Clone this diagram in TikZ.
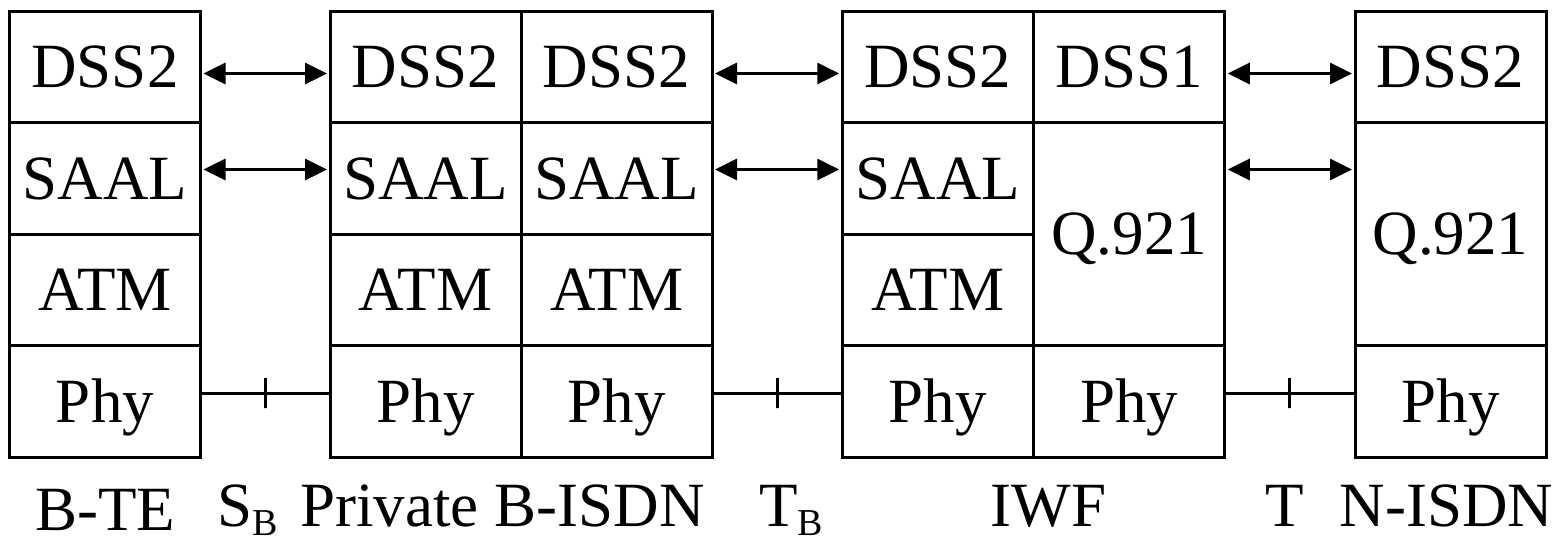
\documentclass[tikz,border=0pt]{standalone}
\usepackage{fontspec}
\setmainfont{Liberation Serif}
\usetikzlibrary{arrows.meta}
\newcommand{\mysub}[1]{\raisebox{-9pt}{\fontsize{38}{38}\selectfont #1}}
\begin{document}
\begin{tikzpicture}[x=1pt,y=-1pt,
  cell/.style={draw, line width=3pt, minimum width=191pt, minimum height=111.5pt,
    inner sep=0pt, text height=41.5pt, text depth=0pt, font=\fontsize{63}{63}\selectfont},
  tall/.style={cell, minimum height=223pt},
  lbl/.style={inner sep=0pt, font=\fontsize{63}{63}\selectfont},
  link/.style={line width=3pt, {Triangle[length=22pt,width=21pt]}-{Triangle[length=22pt,width=21pt]},
    shorten <=1.5pt, shorten >=1.5pt},
  wire/.style={line width=3pt},
  tickmark/.style={draw, line width=3pt, minimum width=0pt, minimum height=30pt, inner sep=0pt, outer sep=0pt}]
\useasboundingbox (0,0) rectangle (1560,544);
% B-TE
\node[cell] (te1) at (105,66.75) {DSS2};
\node[cell] (te2) at (105,178.25) {SAAL};
\node[cell] (te3) at (105,289.75) {ATM};
\node[cell] (te4) at (105,401.25) {Phy};
% Private B-ISDN
\node[cell] (pa1) at (425.5,66.75) {DSS2};
\node[cell] (pa2) at (425.5,178.25) {SAAL};
\node[cell] (pa3) at (425.5,289.75) {ATM};
\node[cell] (pa4) at (425.5,401.25) {Phy};
\node[cell] (pb1) at (616.5,66.75) {DSS2};
\node[cell] (pb2) at (616.5,178.25) {SAAL};
\node[cell] (pb3) at (616.5,289.75) {ATM};
\node[cell] (pb4) at (616.5,401.25) {Phy};
% IWF
\node[cell] (ia1) at (937.75,66.75) {DSS2};
\node[cell] (ia2) at (937.75,178.25) {SAAL};
\node[cell] (ia3) at (937.75,289.75) {ATM};
\node[cell] (ia4) at (937.75,401.25) {Phy};
\node[cell] (ib1) at (1129.25,66.75) {DSS1};
\node[tall] (ib2) at (1129.25,234) {Q.921};
\node[cell] (ib4) at (1129.25,401.25) {Phy};
% N-ISDN
\node[cell] (n1) at (1450.5,66.75) {DSS2};
\node[tall] (n2) at (1450.5,234) {Q.921};
\node[cell] (n4) at (1450.5,401.25) {Phy};
% peer arrows
\draw[link] ([yshift=-6.75pt]te1.east) -- ([yshift=-6.75pt]pa1.west);
\draw[link] ([yshift=8.75pt]te2.east) -- ([yshift=8.75pt]pa2.west);
\draw[link] ([yshift=-6.75pt]pb1.east) -- ([yshift=-6.75pt]ia1.west);
\draw[link] ([yshift=8.75pt]pb2.east) -- ([yshift=8.75pt]ia2.west);
\draw[link] ([yshift=-6.75pt]ib1.east) -- ([yshift=-6.75pt]n1.west);
\draw[link] ([yshift=64.5pt]ib2.east) -- ([yshift=64.5pt]n2.west);
% physical links
\draw[wire] ([yshift=8.25pt]te4.east) -- node[tickmark]{} ([yshift=8.25pt]pa4.west);
\draw[wire] ([yshift=8.25pt]pb4.east) -- node[tickmark]{} ([yshift=8.25pt]ia4.west);
\draw[wire] ([yshift=8.25pt]ib4.east) -- node[tickmark]{} ([yshift=8.25pt]n4.west);
% labels
\node[lbl, anchor=base] (lte) at (105,530) {B-TE};
\node[lbl, anchor=base west] (lsb) at (217,526) {S\mysub{B}};
\node[lbl, anchor=base] (lpriv) at (502.5,526) {Private B-ISDN};
\node[lbl, anchor=base west] (ltb) at (759,526) {T\mysub{B}};
\node[lbl, anchor=base] (liwf) at (1048.5,526) {IWF};
\node[lbl, anchor=base] (lt) at (1285,526) {T};
\node[lbl, anchor=base] (lnisdn) at (1446.5,526) {N-ISDN};
\end{tikzpicture}
\end{document}
